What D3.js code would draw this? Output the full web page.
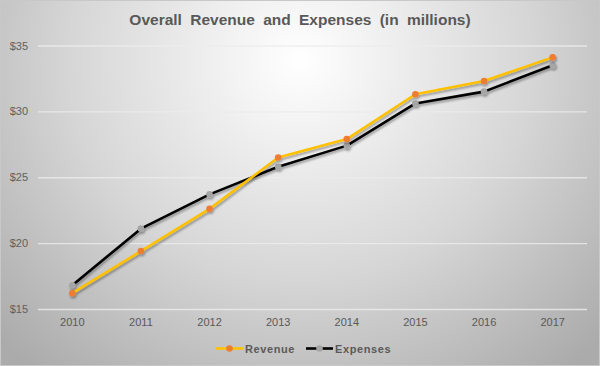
<!DOCTYPE html>
<html><head><meta charset="utf-8">
<script src="https://cdn.jsdelivr.net/npm/d3@7"></script>
<style>html,body{margin:0;padding:0;background:#fff;}svg{display:block;}</style>
</head><body>
<script>
const years = ["2010","2011","2012","2013","2014","2015","2016","2017"];
const revenue = [16.2, 19.4, 22.6, 26.5, 27.9, 31.3, 32.3, 34.1];
const expenses = [16.8, 21.1, 23.7, 25.8, 27.4, 30.6, 31.5, 33.5];
const yTicks = [15, 20, 25, 30, 35];
const seriesNames = ["Revenue", "Expenses"];

const W = 600, H = 366;
const svg = d3.select("body").append("svg").attr("width", W).attr("height", H);
const defs = svg.append("defs");
const rg = defs.append("radialGradient").attr("id","bg")
  .attr("gradientUnits","userSpaceOnUse").attr("cx",300).attr("cy",60).attr("r",420)
  .attr("gradientTransform","translate(300,60) scale(1,0.95) translate(-300,-60)");
rg.append("stop").attr("offset","0").attr("stop-color","#ffffff");
rg.append("stop").attr("offset","0.55").attr("stop-color","#d6d6d6");
rg.append("stop").attr("offset","1").attr("stop-color","#ababab");
const f = defs.append("filter").attr("id","sh").attr("x","-10%").attr("y","-10%").attr("width","130%").attr("height","140%");
f.append("feDropShadow").attr("dx",1).attr("dy",2).attr("stdDeviation",1.2).attr("flood-color","#000").attr("flood-opacity",0.35);

svg.append("rect").attr("width",W).attr("height",H).attr("fill","url(#bg)");
svg.append("rect").attr("x",0.5).attr("y",0.5).attr("width",W-1).attr("height",H-1).attr("fill","none").attr("stroke","#c8c8c8");

const x = d3.scaleBand().domain(years).range([38, 587]);
const y = d3.scaleLinear().domain([15, 35]).range([309, 45.5]);

svg.append("text").attr("x",300).attr("y",25).attr("text-anchor","middle")
  .attr("font-family","Liberation Sans, Arial, sans-serif").attr("font-size",15.5).attr("font-weight","bold")
  .attr("fill","#595959").attr("word-spacing",4)
  .text("Overall Revenue and Expenses (in millions)");

// grid
const yAxis = d3.axisLeft(y).tickValues(yTicks).tickFormat(d => "$" + d).tickSize(-(587-38)).tickPadding(10);
const gy = svg.append("g").attr("transform","translate(38,0)").call(yAxis);
gy.select(".domain").remove();
gy.selectAll(".tick line").attr("stroke","#ebebeb").attr("stroke-width",1.3).attr("stroke-opacity",0.85);
gy.selectAll(".tick text").attr("font-family","Liberation Sans, Arial, sans-serif").attr("font-size",11).attr("fill","#606060");

const xAxis = d3.axisBottom(x).tickSize(0).tickPadding(9);
const gx = svg.append("g").attr("transform","translate(0,309)").call(xAxis);
gx.select(".domain").remove();
gx.selectAll(".tick text").attr("font-family","Liberation Sans, Arial, sans-serif").attr("font-size",11).attr("fill","#595959");

const cx = d => x(d) + x.bandwidth()/2;
const line = d3.line().x((d,i) => cx(years[i])).y(d => y(d));

const series = [
  {name: seriesNames[1], data: expenses, stroke: "#000000", marker: "#a5a5a5"},
  {name: seriesNames[0], data: revenue, stroke: "#ffc000", marker: "#ed7d31"}
];
series.forEach(s => {
  const g = svg.append("g").attr("filter","url(#sh)");
  g.append("path").datum(s.data).attr("d", line).attr("fill","none")
    .attr("stroke", s.stroke).attr("stroke-width", 2.6).attr("stroke-linejoin","round");
  g.selectAll("circle").data(s.data).join("circle")
    .attr("cx",(d,i)=>cx(years[i])).attr("cy",d=>y(d)).attr("r",3.3).attr("fill",s.marker);
});

// legend
const legend = [
  {name: seriesNames[0], stroke: "#ffc000", marker: "#ed7d31", x: 216},
  {name: seriesNames[1], stroke: "#000000", marker: "#a5a5a5", x: 306}
];
legend.forEach(l => {
  const g = svg.append("g");
  g.append("line").attr("x1",l.x).attr("x2",l.x+27).attr("y1",348.5).attr("y2",348.5).attr("stroke",l.stroke).attr("stroke-width",2.6);
  g.append("circle").attr("cx",l.x+13.5).attr("cy",348.5).attr("r",3.3).attr("fill",l.marker);
  g.append("text").attr("x",l.x+29).attr("y",352.5).attr("font-family","Liberation Sans, Arial, sans-serif")
    .attr("font-size",11).attr("font-weight","bold").attr("letter-spacing",0.6).attr("fill","#595959").text(l.name);
});
</script>
</body></html>
